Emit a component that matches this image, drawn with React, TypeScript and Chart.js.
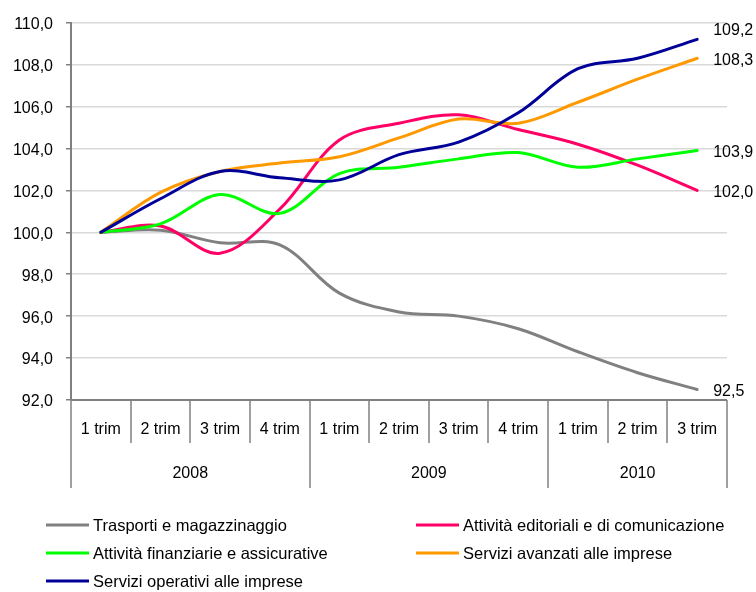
import React, { useEffect, useRef } from 'react';
import { Chart, registerables } from 'chart.js';

Chart.register(...registerables);

const quarters = ['1 trim', '2 trim', '3 trim', '4 trim', '1 trim', '2 trim', '3 trim', '4 trim', '1 trim', '2 trim', '3 trim'];
const years = ['2008', '2009', '2010'];
const quartersPerYear = [4, 4, 3];

const seriesNames = [
  'Trasporti e magazzinaggio',
  'Attività editoriali e di comunicazione',
  'Attività finanziarie e assicurative',
  'Servizi avanzati alle imprese',
  'Servizi operativi alle imprese',
];
const trasporti = [100, 100.1, 99.5, 99.4, 97.1, 96.2, 96.0, 95.4, 94.3, 93.3, 92.5];
const editoriali = [100, 100.3, 99.0, 101.1, 104.4, 105.2, 105.6, 104.9, 104.2, 103.2, 102.0];
const finanziarie = [100, 100.4, 101.8, 100.9, 102.8, 103.1, 103.5, 103.8, 103.1, 103.5, 103.9];
const avanzati = [100, 101.9, 102.9, 103.3, 103.6, 104.5, 105.4, 105.2, 106.2, 107.3, 108.3];
const operativi = [100, 101.6, 102.9, 102.6, 102.5, 103.7, 104.3, 105.7, 107.8, 108.3, 109.2];
const seriesColors = ['#808080', '#FF0066', '#00FF00', '#FF9900', '#000099'];

const yMin = 92;
const yMax = 110;
const yStep = 2;

const FONT = '"Liberation Sans", Arial, sans-serif';
const fmt = (v: number) => v.toFixed(1).replace('.', ',');

const decorPlugin = {
  id: 'decor',
  afterDraw(chart: any) {
    const ctx = chart.ctx;
    const x = chart.scales.x;
    const area = chart.chartArea;
    const n = quarters.length;
    const w = (area.right - area.left) / n;
    ctx.save();
    // x axis line
    ctx.strokeStyle = '#808080';
    ctx.lineWidth = 2;
    ctx.beginPath();
    ctx.moveTo(area.left, area.bottom);
    ctx.lineTo(area.right, area.bottom);
    ctx.stroke();
    // separators
    const yearBounds = new Set<number>();
    let acc = 0;
    yearBounds.add(0);
    quartersPerYear.forEach((c) => { acc += c; yearBounds.add(acc); });
    ctx.lineWidth = 1.5;
    for (let i = 0; i <= n; i++) {
      const px = Math.round(area.left + i * w);
      ctx.beginPath();
      ctx.moveTo(px, area.bottom);
      ctx.lineTo(px, area.bottom + (yearBounds.has(i) ? 88 : 43));
      ctx.stroke();
    }
    ctx.fillStyle = '#000';
    ctx.font = `16px ${FONT}`;
    ctx.textAlign = 'center';
    ctx.textBaseline = 'middle';
    quarters.forEach((q, i) => {
      ctx.fillText(q, x.getPixelForValue(i), area.bottom + 30);
    });
    let start = 0;
    years.forEach((yr, k) => {
      const end = start + quartersPerYear[k];
      const cx = area.left + ((start + end) / 2) * w;
      ctx.fillText(yr, cx, area.bottom + 74);
      start = end;
    });

    // end labels
    const lbls = chart.data.datasets.map((ds: any, i: number) => {
      const meta = chart.getDatasetMeta(i);
      const pt = meta.data[meta.data.length - 1];
      return { text: fmt(ds.data[ds.data.length - 1]), x: pt.x + 16, y: pt.y + 2 };
    });
    const sorted = [...lbls].sort((a, b) => b.y - a.y);
    for (let i = 1; i < sorted.length; i++) {
      if (sorted[i - 1].y - sorted[i].y < 30) sorted[i].y = sorted[i - 1].y - 30;
    }
    ctx.textAlign = 'left';
    lbls.forEach((l: any) => ctx.fillText(l.text, l.x, l.y));

    // legend
    const cols = [46, 416];
    const rows = [525, 553, 581];
    ctx.font = `16.5px ${FONT}`;
    seriesNames.forEach((name, i) => {
      const cx = cols[i % 2];
      const cy = rows[Math.floor(i / 2)];
      ctx.strokeStyle = seriesColors[i];
      ctx.lineWidth = 3;
      ctx.lineCap = 'butt';
      ctx.beginPath();
      ctx.moveTo(cx, cy);
      ctx.lineTo(cx + 43, cy);
      ctx.stroke();
      ctx.fillStyle = '#000';
      ctx.fillText(name, cx + 47, cy + 1);
    });
    ctx.restore();
  },
};

export default function App() {
  const ref = useRef<HTMLCanvasElement | null>(null);
  useEffect(() => {
    if (!ref.current) return;
    const all = [trasporti, editoriali, finanziarie, avanzati, operativi];
    const chart = new Chart(ref.current, {
      type: 'line',
      data: {
        labels: quarters.map((q, i) => `${q}-${i}`),
        datasets: all.map((d, i) => ({
          label: seriesNames[i],
          data: d,
          borderColor: seriesColors[i],
          backgroundColor: seriesColors[i],
          borderWidth: 3,
          pointRadius: 0,
          tension: 0.35,
          borderCapStyle: 'round',
          borderJoinStyle: 'round',
          order: all.length - i,
        })),
      },
      options: {
        animation: false,
        responsive: false,
        devicePixelRatio: 1,
        layout: { padding: { left: 0, right: 29, top: 21, bottom: 192 } },
        plugins: { legend: { display: false }, tooltip: { enabled: false } },
        scales: {
          x: {
            type: 'category',
            offset: true,
            grid: { display: false },
            ticks: { display: false },
            border: { display: false },
            afterFit: (s: any) => { s.height = 0; },
          },
          y: {
            min: yMin,
            max: yMax,
            afterFit: (s: any) => { s.width = 71; },
            ticks: {
              stepSize: yStep,
              color: '#000',
              font: { family: FONT, size: 16 },
              padding: 13,
              labelOffset: 2,
              callback: (v: any) => fmt(Number(v)),
            },
            grid: { color: '#d9d9d9', lineWidth: 1.5, tickColor: '#808080', tickLength: 5 },
            border: { color: '#808080', width: 2 },
          },
        },
      },
      plugins: [decorPlugin],
    } as any);
    return () => chart.destroy();
  }, []);
  return (
    <div style={{ position: 'fixed', left: 0, top: 0, width: 756, height: 592, background: '#fff' }}>
      <canvas ref={ref} width={756} height={592} />
    </div>
  );
}
